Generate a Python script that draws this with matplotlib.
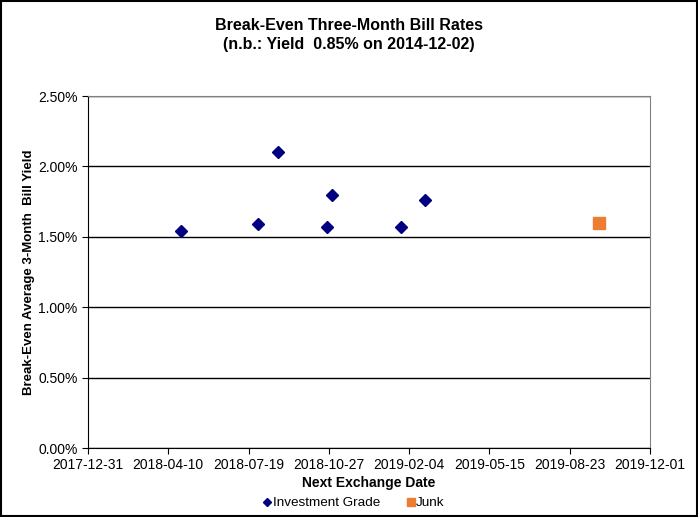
import numpy as np
import matplotlib
matplotlib.use("Agg")
import matplotlib.pyplot as plt
import matplotlib.dates as mdates
from matplotlib.ticker import FuncFormatter
from matplotlib.patches import Rectangle
import datetime as dt

plt.rcParams['font.family'] = ['Liberation Sans', 'DejaVu Sans']

# data
ig_dates = ["2018-04-26", "2018-07-31", "2018-08-25", "2018-10-25",
            "2018-10-31", "2019-01-25", "2019-02-24"]
ig_yield = [1.54, 1.59, 2.10, 1.57, 1.80, 1.57, 1.76]
junk_dates = ["2019-09-29"]
junk_yield = [1.60]

x_start = dt.date(2017, 12, 31)
x_end = dt.date(2019, 12, 1)
tick_step_days = 100
y_ticks = [0.0, 0.5, 1.0, 1.5, 2.0, 2.5]

ig_x = [dt.datetime.strptime(d, "%Y-%m-%d") for d in ig_dates]
junk_x = [dt.datetime.strptime(d, "%Y-%m-%d") for d in junk_dates]

fig = plt.figure(figsize=(6.98, 5.17), dpi=100)
ax = fig.add_axes([88/698, 1 - 448/517, (650 - 88)/698, (448 - 96)/517])

ax.plot(ig_x, ig_yield, linestyle='none', marker='D', markersize=6.2,
        color='#000080', label='Investment Grade')
ax.plot(junk_x, junk_yield, linestyle='none', marker='s', markersize=8.3,
        color='#ED7D31', label='Junk')

ax.set_xlim(x_start, x_end)
ticks = [x_start + dt.timedelta(days=tick_step_days * i) for i in range(8)]
ax.set_xticks(ticks)
ax.xaxis.set_major_formatter(mdates.DateFormatter('%Y-%m-%d'))
ax.set_ylim(0, 2.5)
ax.set_yticks(y_ticks)
ax.yaxis.set_major_formatter(FuncFormatter(lambda v, p: f"{v:.2f}%"))

ax.yaxis.grid(True, color='black', linewidth=1)
ax.set_axisbelow(True)
for s in ['top', 'right']:
    ax.spines[s].set_color('#808080')
for s in ['left', 'bottom']:
    ax.spines[s].set_color('black')
ax.tick_params(axis='both', direction='out', length=4, labelsize=10, color='black')
ax.tick_params(axis='x', pad=3)

ax.set_xlabel('Next Exchange Date', fontsize=10, fontweight='bold', labelpad=3)
ax.set_ylabel('Break-Even Average 3-Month  Bill Yield', fontsize=9.5,
              fontweight='bold', labelpad=2)

fig.text(0.5, 1 - 25/517, 'Break-Even Three-Month Bill Rates', ha='center',
         va='center', fontsize=11.5, fontweight='bold')
fig.text(0.5, 1 - 45/517, '(n.b.: Yield  0.85% on 2014-12-02)', ha='center',
         va='center', fontsize=11.5, fontweight='bold')

fig.legend(loc='center', bbox_to_anchor=(354/698, 1 - 503/517), ncol=2,
           frameon=False, fontsize=9.7, markerscale=0.7, handlelength=0.6,
           handletextpad=0.1, columnspacing=2.0)

fig.patches.append(Rectangle((0.001, 0.001), 0.997, 0.997, transform=fig.transFigure,
                             fill=False, edgecolor='black', linewidth=1.5))

fig.savefig('out.png', dpi=100)
